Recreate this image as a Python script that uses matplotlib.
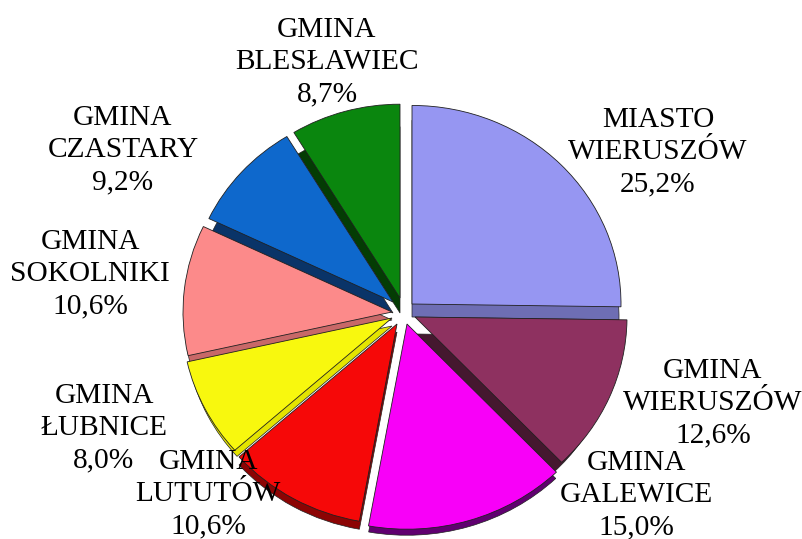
import matplotlib
matplotlib.use("Agg")
import matplotlib.pyplot as plt

names = ["MIASTO\nWIERUSZÓW", "GMINA\nWIERUSZÓW", "GMINA\nGALEWICE", "GMINA\nLUTUTÓW",
         "GMINA\nŁUBNICE", "GMINA\nSOKOLNIKI", "GMINA\nCZASTARY", "GMINA\nBLESŁAWIEC"]
values = [25.2, 12.6, 15.0, 10.6, 8.0, 10.6, 9.2, 8.7]
pct_labels = ["25,2%", "12,6%", "15,0%", "10,6%", "8,0%", "10,6%", "9,2%", "8,7%"]
colors = ["#9696F2", "#8E3160", "#F800F8", "#F60808", "#F8F80E", "#FC8A8A", "#0E68CC", "#0A860E"]
sides = ["#6E6EB4", "#45182F", "#600070", "#8C0404", "#E4E400", "#C86868", "#0A3468", "#043C04"]

# placement of each slice's apex in pixels, radius and depth of the side face
apex_x = [412, 415, 407, 397, 392, 392, 393, 400]
apex_y = [304, 317, 324, 324, 318, 312, 302, 298]
radii = [209, 212, 216, 211, 210, 209, 204, 204]
depth = [13, 17, 7, 8, 8, 8, 11, 15]
shrink = [2, 11, 1, 0, 3, 2, 4, 8]

label_xy = [(658, 152), (713, 403), (636, 495), (208, 494), (104, 428), (90, 274), (123, 150), (327, 62)]

YS = 0.95
W, H = 802, 539
plt.rcParams['font.family'] = ['Liberation Serif', 'DejaVu Serif']
fig = plt.figure(figsize=(W/100, H/100), dpi=100)
ax = fig.add_axes([0, 0, 1, 1])


def draw(cols, z, dy, dr, lw):
    wedges, _ = ax.pie(values, colors=cols, startangle=90, counterclock=False,
                       radius=200, center=(400, 270), frame=True,
                       wedgeprops=dict(edgecolor='#202020', linewidth=lw))
    for i, p in enumerate(wedges):
        p.set_center((apex_x[i], (H - apex_y[i] - dy[i]) / YS))
        p.set_radius(radii[i] - dr[i])
        p.set_zorder(z)


draw(sides, 1, depth, shrink, 0.5)
draw(colors, 2, [0] * 8, [0] * 8, 0.6)
ax.set_aspect('auto')
ax.set_xlim(0, W)
ax.set_ylim(0, H / YS)
ax.axis('off')

for n, p, (x, y) in zip(names, pct_labels, label_xy):
    ax.text(x, (H - y) / YS, n + "\n" + p, ha='center', va='center', fontsize=21.2,
            color='black', linespacing=1.3, zorder=5)

fig.savefig("out.png", dpi=100, facecolor='white')
